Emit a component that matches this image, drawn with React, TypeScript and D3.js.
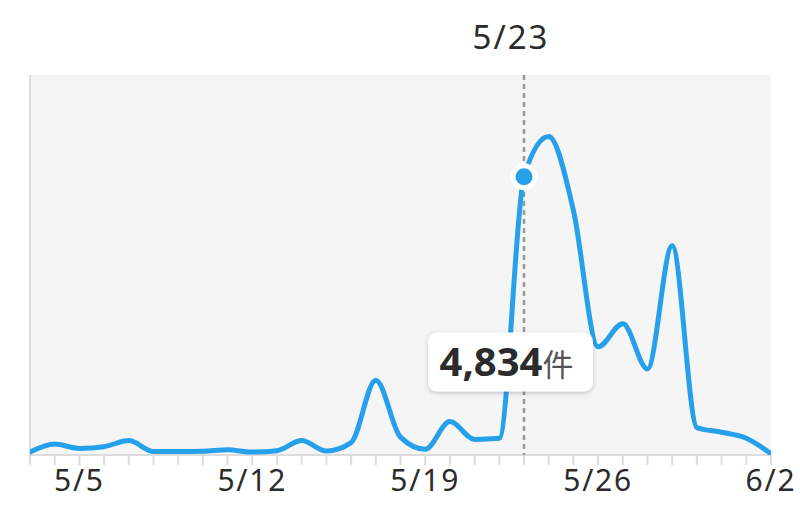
import React from "react";
import * as d3 from "d3";

const dates: string[] = [
  "5/3","5/4","5/5","5/6","5/7","5/8","5/9","5/10","5/11","5/12","5/13","5/14","5/15","5/16",
  "5/17","5/18","5/19","5/20","5/21","5/22","5/23","5/24","5/25","5/26","5/27","5/28","5/29",
  "5/30","5/31","6/1","6/2",
];
const counts: number[] = [
  50, 190, 115, 145, 250, 60, 60, 65, 90, 50, 75, 250, 70, 215,
  1300, 310, 100, 580, 270, 290, 4834, 5530, 4250, 1880, 2280, 1495, 3635,
  475, 395, 290, 20,
];
const tickLabels: string[] = ["5/5", "5/12", "5/19", "5/26", "6/2"];
const selectedDate = "5/23";
const unit = "件";

const W = 800;
const H = 513;
const left = 30;
const right = 771;
const top = 75;
const bottom = 455;

export default function App() {
  const x = d3.scaleLinear().domain([0, dates.length - 1]).range([left, right]);
  const y = d3.scaleLinear().domain([0, 6600]).range([bottom, top]);
  const line = d3
    .line<number>()
    .x((_, i) => x(i))
    .y((d) => y(d))
    .curve(d3.curveMonotoneX);
  const si = dates.indexOf(selectedDate);
  const sx = x(si);
  const sy = y(counts[si]);
  const fmt = d3.format(",");
  const font = "'Noto Sans', 'Noto Sans CJK JP', sans-serif";
  return (
    <svg
      width={W}
      height={H}
      style={{ position: "fixed", left: 0, top: 0, background: "#fff" }}
      fontFamily={font}
    >
      <defs>
        <filter id="sh" x="-20%" y="-30%" width="140%" height="160%">
          <feDropShadow dx="0" dy="1.5" stdDeviation="2" floodColor="#000" floodOpacity="0.22" />
        </filter>
        <clipPath id="clip">
          <rect x={left} y={top - 10} width={right - left} height={bottom - top + 10} />
        </clipPath>
      </defs>
      <rect x={left} y={top} width={right - left} height={bottom - top} fill="#f5f5f5" />
      <line x1={left} x2={left} y1={top} y2={bottom} stroke="#dcdcdc" strokeWidth={2} />
      <line x1={left} x2={right} y1={bottom} y2={bottom} stroke="#dcdcdc" strokeWidth={2} />
      {dates.map((d, i) => (
        <line key={d} x1={x(i)} x2={x(i)} y1={bottom} y2={bottom + 10} stroke="#dcdcdc" strokeWidth={2} />
      ))}
      {tickLabels.map((t) => (
        <text
          key={t}
          x={x(dates.indexOf(t))}
          y={491}
          textAnchor="middle"
          fontSize={30}
          letterSpacing={1.8}
          fill="#2b2b2b"
        >
          {t}
        </text>
      ))}
      <line
        x1={sx}
        x2={sx}
        y1={top}
        y2={bottom}
        stroke="#999"
        strokeWidth={2.5}
        strokeDasharray="5,4"
      />
      <text x={sx - 13} y={49} textAnchor="middle" fontSize={33} letterSpacing={2} fill="#2b2b2b">
        {selectedDate}
      </text>
      <path
        d={line(counts) || ""}
        fill="none"
        stroke="#27a0ec"
        strokeWidth={5}
        strokeLinejoin="round"
        strokeLinecap="round"
        clipPath="url(#clip)"
      />
      <circle cx={sx} cy={sy} r={11} fill="#27a0ec" stroke="#fff" strokeWidth={5} />
      <g transform={`translate(${sx - 13.5},362)`}>
        <rect x={-82.5} y={-29.5} width={165} height={59} rx={9} fill="#fff" filter="url(#sh)" />
        <text x={-71} y={14} fontSize={40} fontWeight={700} fill="#2b2b2b">
          {fmt(counts[si])}
          <tspan fontFamily="'Noto Sans CJK JP', sans-serif" fontSize={31} fontWeight={400} fill="#555">
            {unit}
          </tspan>
        </text>
      </g>
    </svg>
  );
}
